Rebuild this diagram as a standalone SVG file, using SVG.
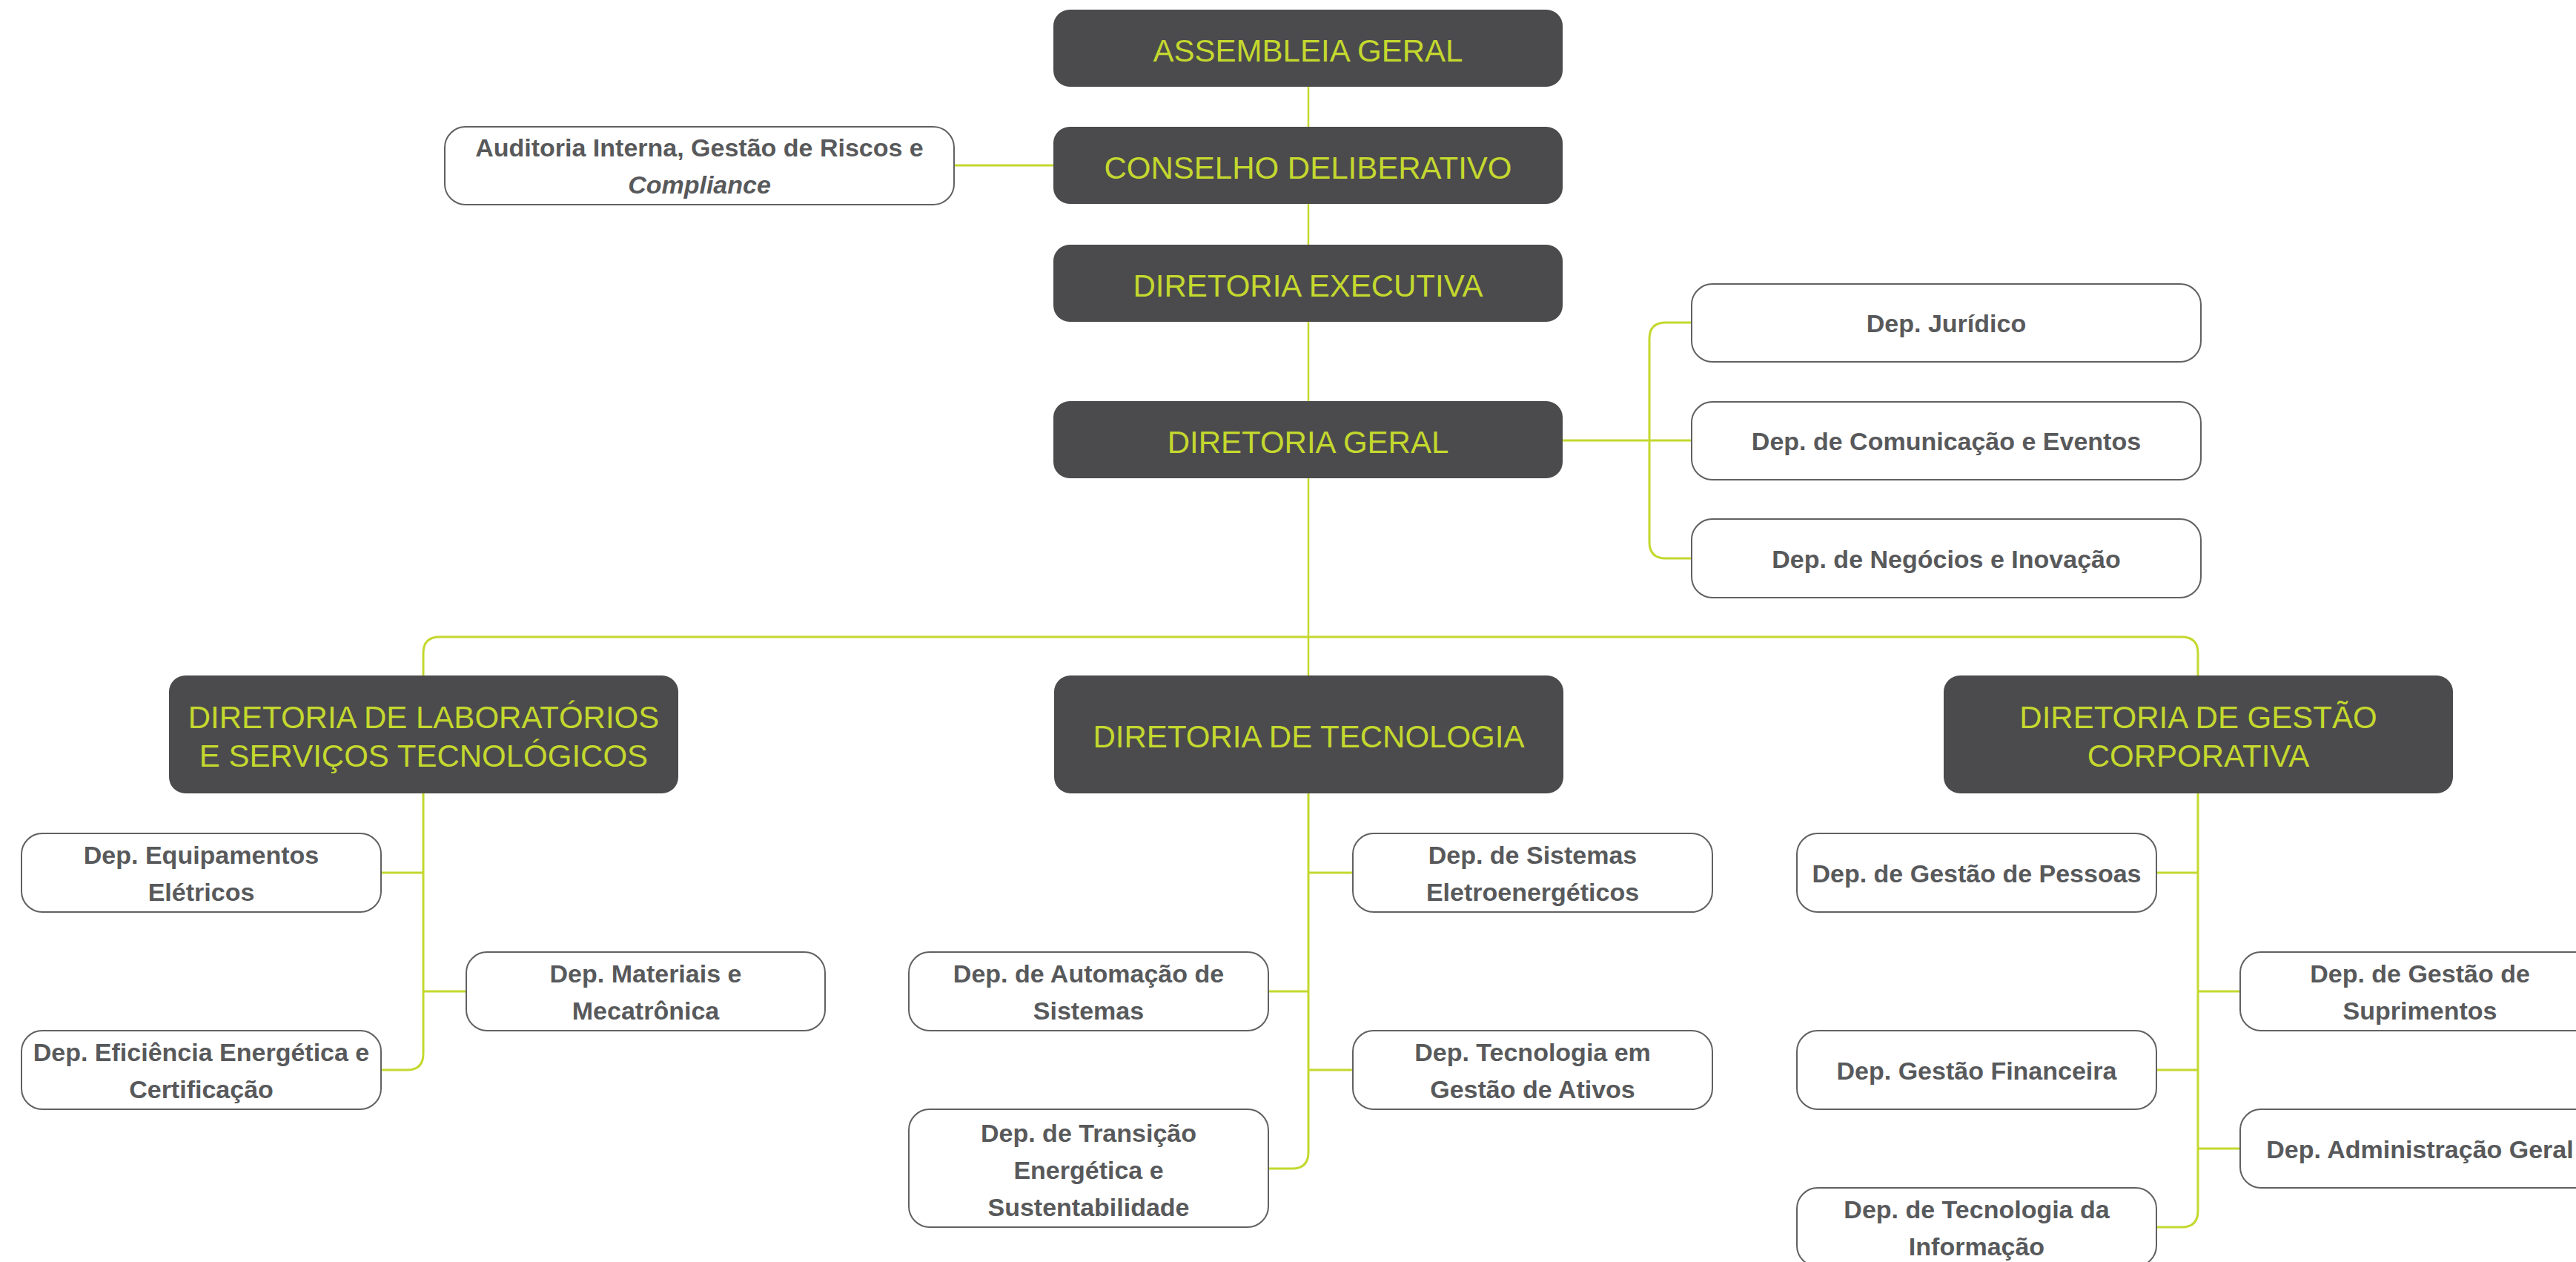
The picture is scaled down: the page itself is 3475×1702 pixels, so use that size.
<svg xmlns="http://www.w3.org/2000/svg" width="3475" height="1702" viewBox="0 0 3475 1702">
<style>
.dark{fill:#4b4b4d}
.light{fill:#ffffff;stroke:#616161;stroke-width:2}
.t{font-family:"Liberation Sans",Arial,sans-serif;font-size:42px;fill:#c4d82e;text-anchor:middle}
.d{font-family:"Liberation Sans",Arial,sans-serif;font-size:34px;font-weight:bold;fill:#58595b;text-anchor:middle}
.i{font-style:italic}
.c{fill:none;stroke:#c4d82e;stroke-width:3}
.c2{fill:none;stroke:#c4d82e;stroke-width:2.5}
</style>
<rect width="3475" height="1702" fill="#ffffff"/>
<g id="connectors">
<path class="c2" d="M1765,117V171M1765,275V330M1765,434V541M1765,645V911"/>
<path class="c" d="M1287,223H1421"/>
<path class="c" d="M2108,594H2282M2282,435H2247Q2225,435 2225,457V731Q2225,753 2247,753H2282"/>
<path class="c" d="M571,911V881Q571,859 593,859H2943Q2965,859 2965,881V911"/>
<path class="c" d="M571,1070V1421Q571,1443 549,1443H514M514,1177H571M571,1337H629"/>
<path class="c" d="M1765,1070V1554Q1765,1576 1743,1576H1711M1765,1177H1825M1711,1337H1765M1765,1443H1825"/>
<path class="c" d="M2965,1070V1633Q2965,1655 2943,1655H2909M2909,1177H2965M2965,1337H3022M2909,1443H2965M2965,1549H3022"/>
</g>
<g id="assembleia"><rect class="dark" x="1421" y="13" width="687" height="104" rx="22"/><text class="t" x="1764.5" y="83">ASSEMBLEIA GERAL</text></g>
<g id="conselho"><rect class="dark" x="1421" y="171" width="687" height="104" rx="22"/><text class="t" x="1764.5" y="241">CONSELHO DELIBERATIVO</text></g>
<g id="executiva"><rect class="dark" x="1421" y="330" width="687" height="104" rx="22"/><text class="t" x="1764.5" y="400">DIRETORIA EXECUTIVA</text></g>
<g id="geral"><rect class="dark" x="1421" y="541" width="687" height="104" rx="22"/><text class="t" x="1764.5" y="611">DIRETORIA GERAL</text></g>
<g id="auditoria"><rect class="light" x="600" y="171" width="687" height="105" rx="28"/><text class="d" x="943.5" y="211">Auditoria Interna, Gestão de Riscos e</text><text class="d i" x="943.5" y="261">Compliance</text></g>
<g id="juridico"><rect class="light" x="2282" y="383" width="687" height="105" rx="28"/><text class="d" x="2625.5" y="448">Dep. Jurídico</text></g>
<g id="comunicacao"><rect class="light" x="2282" y="542" width="687" height="105" rx="28"/><text class="d" x="2625.5" y="607">Dep. de Comunicação e Eventos</text></g>
<g id="negocios"><rect class="light" x="2282" y="700" width="687" height="106" rx="28"/><text class="d" x="2625.5" y="766">Dep. de Negócios e Inovação</text></g>
<g id="laboratorios"><rect class="dark" x="228" y="911" width="687" height="159" rx="22"/><text class="t" x="571.5" y="982">DIRETORIA DE LABORATÓRIOS</text><text class="t" x="571.5" y="1034">E SERVIÇOS TECNOLÓGICOS</text></g>
<g id="tecnologia"><rect class="dark" x="1422" y="911" width="687" height="159" rx="22"/><text class="t" x="1765.5" y="1008">DIRETORIA DE TECNOLOGIA</text></g>
<g id="gestao"><rect class="dark" x="2622" y="911" width="687" height="159" rx="22"/><text class="t" x="2965.5" y="982">DIRETORIA DE GESTÃO</text><text class="t" x="2965.5" y="1034">CORPORATIVA</text></g>
<g id="equipamentos"><rect class="light" x="29" y="1124" width="485" height="106" rx="28"/><text class="d" x="271.5" y="1165">Dep. Equipamentos</text><text class="d" x="271.5" y="1215">Elétricos</text></g>
<g id="materiais"><rect class="light" x="629" y="1284" width="484" height="106" rx="28"/><text class="d" x="871" y="1325">Dep. Materiais e</text><text class="d" x="871" y="1375">Mecatrônica</text></g>
<g id="eficiencia"><rect class="light" x="29" y="1390" width="485" height="106" rx="28"/><text class="d" x="271.5" y="1431">Dep. Eficiência Energética e</text><text class="d" x="271.5" y="1481">Certificação</text></g>
<g id="sistemas"><rect class="light" x="1825" y="1124" width="485" height="106" rx="28"/><text class="d" x="2067.5" y="1165">Dep. de Sistemas</text><text class="d" x="2067.5" y="1215">Eletroenergéticos</text></g>
<g id="automacao"><rect class="light" x="1226" y="1284" width="485" height="106" rx="28"/><text class="d" x="1468.5" y="1325">Dep. de Automação de</text><text class="d" x="1468.5" y="1375">Sistemas</text></g>
<g id="ativos"><rect class="light" x="1825" y="1390" width="485" height="106" rx="28"/><text class="d" x="2067.5" y="1431">Dep. Tecnologia em</text><text class="d" x="2067.5" y="1481">Gestão de Ativos</text></g>
<g id="transicao"><rect class="light" x="1226" y="1496" width="485" height="159" rx="28"/><text class="d" x="1468.5" y="1540">Dep. de Transição</text><text class="d" x="1468.5" y="1590">Energética e</text><text class="d" x="1468.5" y="1640">Sustentabilidade</text></g>
<g id="pessoas"><rect class="light" x="2424" y="1124" width="485" height="106" rx="28"/><text class="d" x="2666.5" y="1190">Dep. de Gestão de Pessoas</text></g>
<g id="suprimentos"><rect class="light" x="3022" y="1284" width="485" height="106" rx="28"/><text class="d" x="3264.5" y="1325">Dep. de Gestão de</text><text class="d" x="3264.5" y="1375">Suprimentos</text></g>
<g id="financeira"><rect class="light" x="2424" y="1390" width="485" height="106" rx="28"/><text class="d" x="2666.5" y="1456">Dep. Gestão Financeira</text></g>
<g id="administracao"><rect class="light" x="3022" y="1496" width="485" height="106" rx="28"/><text class="d" x="3264.5" y="1562">Dep. Administração Geral</text></g>
<g id="ti"><rect class="light" x="2424" y="1602" width="485" height="106" rx="28"/><text class="d" x="2666.5" y="1643">Dep. de Tecnologia da</text><text class="d" x="2666.5" y="1693">Informação</text></g>
</svg>
